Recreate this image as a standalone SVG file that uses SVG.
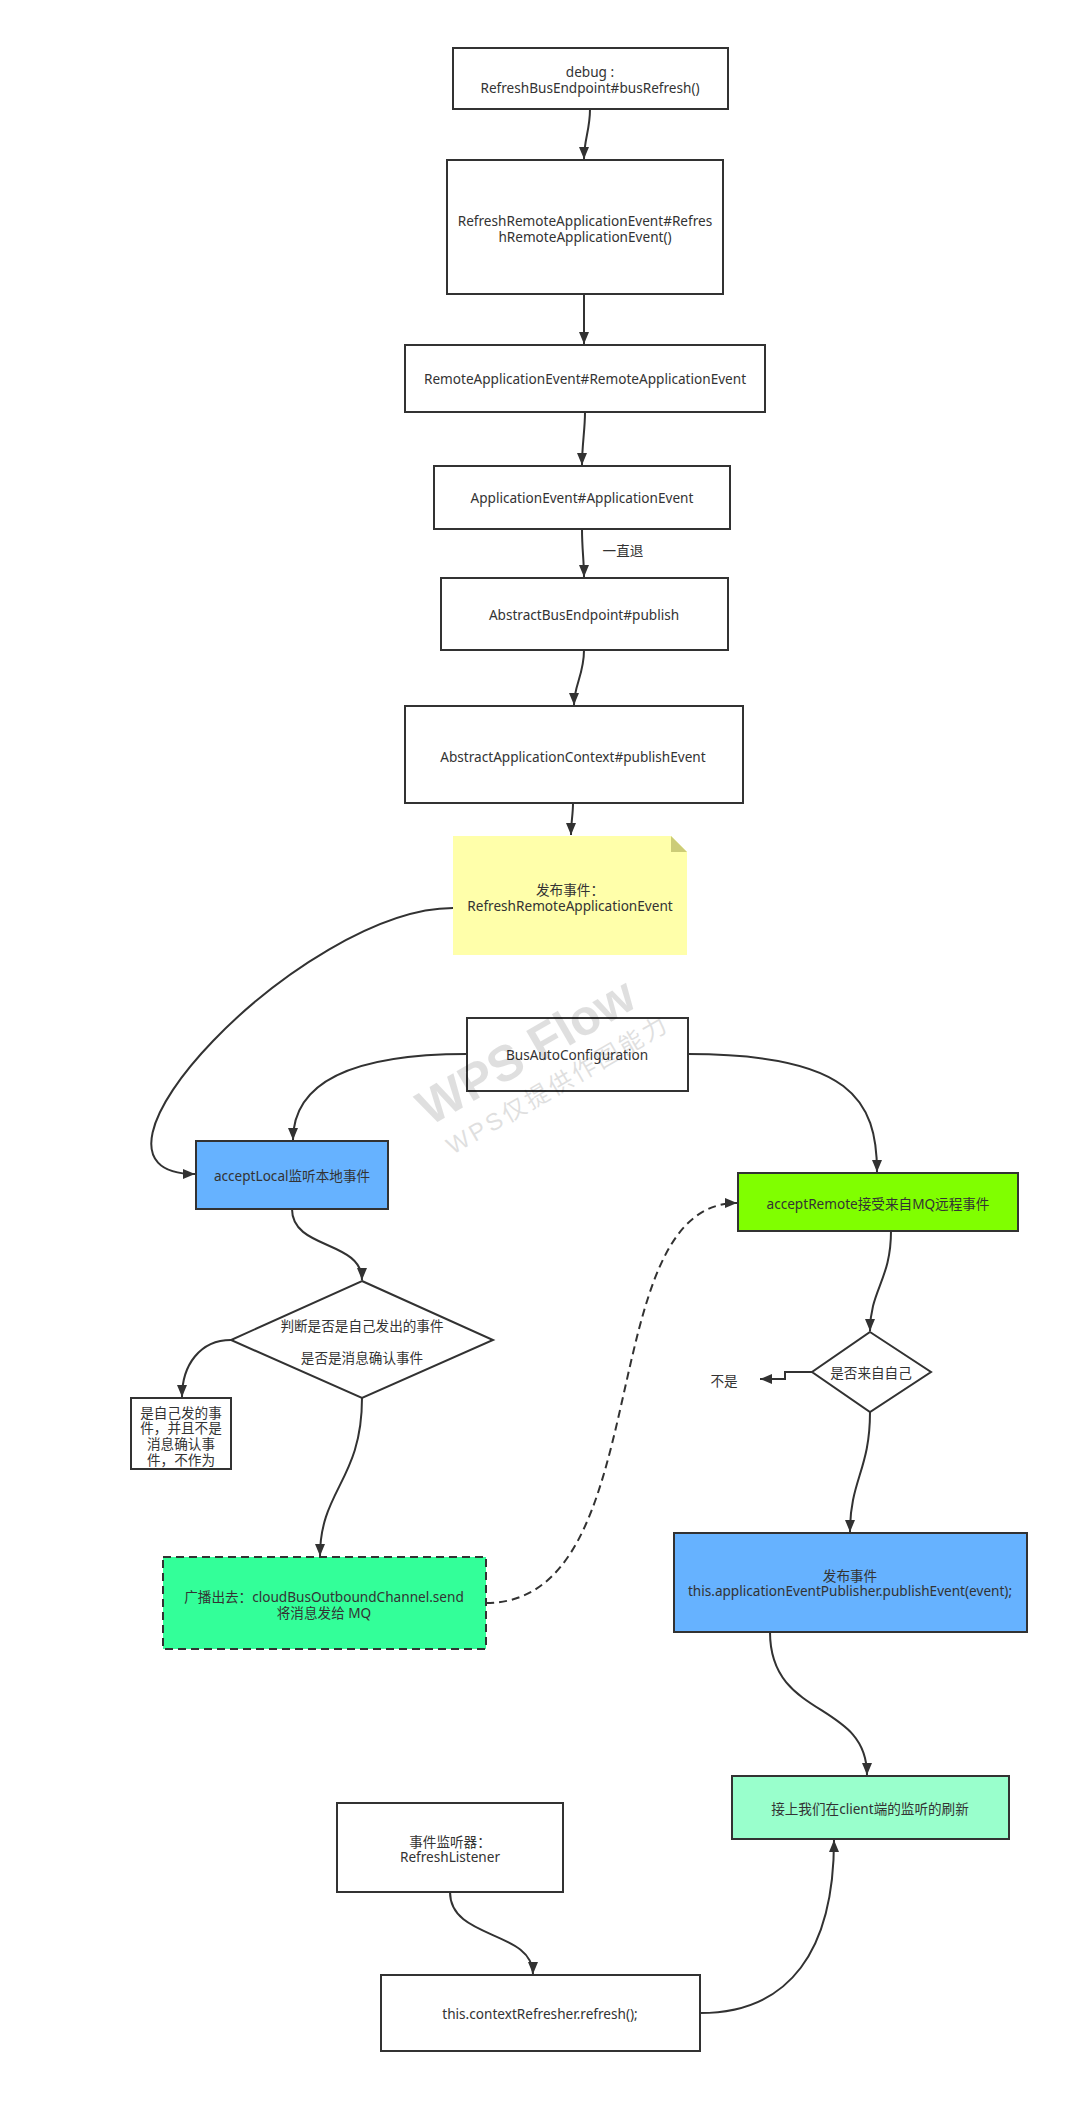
<svg xmlns="http://www.w3.org/2000/svg" width="1088" height="2113" viewBox="0 0 1088 2113">
<defs>
<marker id="arr" markerUnits="userSpaceOnUse" markerWidth="13" markerHeight="11" refX="12" refY="5" orient="auto">
<path d="M0,0 L12,5 L0,10 z" fill="#323232"/>
</marker>
<style>
.box{stroke:#323232;stroke-width:2;fill:#ffffff}
.t{font-family:"Noto Sans","Noto Sans CJK SC",sans-serif;font-size:13.6px;fill:#333333;text-anchor:middle;dominant-baseline:central}
.c{fill:none;stroke:#323232;stroke-width:2}
.wm{font-family:"Liberation Sans","Noto Sans CJK SC",sans-serif;fill:#000;opacity:0.12;text-anchor:middle}
</style>
</defs>
<rect width="1088" height="2113" fill="#ffffff"/>

<g id="n1"><rect class="box" x="453" y="48" width="275" height="61"/><text class="t" x="590" y="71">debug :</text><text class="t" x="590" y="87">RefreshBusEndpoint#busRefresh()</text></g>
<g id="n2"><rect class="box" x="447" y="160" width="276" height="134"/><text class="t" x="585" y="220">RefreshRemoteApplicationEvent#Refres</text><text class="t" x="585" y="236">hRemoteApplicationEvent()</text></g>
<g id="n3"><rect class="box" x="405" y="345" width="360" height="67"/><text class="t" x="585" y="378">RemoteApplicationEvent#RemoteApplicationEvent</text></g>
<g id="n4"><rect class="box" x="434" y="466" width="296" height="63"/><text class="t" x="582" y="497">ApplicationEvent#ApplicationEvent</text></g>
<g id="n5"><rect class="box" x="441" y="578" width="287" height="72"/><text class="t" x="584" y="614">AbstractBusEndpoint#publish</text></g>
<g id="n6"><rect class="box" x="405" y="706" width="338" height="97"/><text class="t" x="573" y="756">AbstractApplicationContext#publishEvent</text></g>
<g id="n7"><polygon points="453,836 671,836 687,852 687,955 453,955" fill="#ffffaa"/><polygon points="671,836 687,852 671,852" fill="#cccc77"/><text class="t" x="570" y="889">发布事件：</text><text class="t" x="570" y="905">RefreshRemoteApplicationEvent</text></g>
<g id="n8"><rect class="box" x="467" y="1018" width="221" height="73"/><text class="t" x="577" y="1054">BusAutoConfiguration</text></g>
<g id="n9"><rect class="box" x="196" y="1141" width="192" height="68" style="fill:#66b2ff"/><text class="t" x="292" y="1175">acceptLocal监听本地事件</text></g>
<g id="n10"><polygon class="box" points="362,1281 493,1340 362,1398 231,1340"/><text class="t" x="362" y="1325">判断是否是自己发出的事件</text><text class="t" x="362" y="1357">是否是消息确认事件</text></g>
<g id="n11"><rect class="box" x="131" y="1398" width="100" height="71"/><text class="t" x="181" y="1412">是自己发的事</text><text class="t" x="181" y="1427">件，并且不是</text><text class="t" x="181" y="1443">消息确认事</text><text class="t" x="181" y="1459">件，不作为</text></g>
<g id="n12"><rect class="box" x="163" y="1557" width="323" height="92" style="fill:#33ff99;stroke-dasharray:8 5"/><text class="t" x="324" y="1596">广播出去：cloudBusOutboundChannel.send</text><text class="t" x="324" y="1612">将消息发给 MQ</text></g>
<g id="n13"><rect class="box" x="738" y="1173" width="280" height="58" style="fill:#80ff00"/><text class="t" x="878" y="1203">acceptRemote接受来自MQ远程事件</text></g>
<g id="n14"><polygon class="box" points="870,1332 931,1372 870,1412 812,1372"/><text class="t" x="871" y="1372">是否来自自己</text></g>
<g id="n15"><text class="t" x="724" y="1380">不是</text></g>
<g id="n16"><rect class="box" x="674" y="1533" width="353" height="99" style="fill:#66b2ff"/><text class="t" x="850" y="1575">发布事件</text><text class="t" x="850" y="1590">this.applicationEventPublisher.publishEvent(event);</text></g>
<g id="n17"><rect class="box" x="732" y="1776" width="277" height="63" style="fill:#99ffcc"/><text class="t" x="870" y="1808">接上我们在client端的监听的刷新</text></g>
<g id="n18"><rect class="box" x="337" y="1803" width="226" height="89"/><text class="t" x="450" y="1841">事件监听器：</text><text class="t" x="450" y="1856">RefreshListener</text></g>
<g id="n19"><rect class="box" x="381" y="1975" width="319" height="76"/><text class="t" x="540" y="2013">this.contextRefresher.refresh();</text></g>

<g id="connectors">
<path class="c" marker-end="url(#arr)" d="M590,109 C590,130 584,140 584,159"/>
<path class="c" marker-end="url(#arr)" d="M584,294 L584,344"/>
<path class="c" marker-end="url(#arr)" d="M585,412 C585,430 582,445 582,465"/>
<path class="c" marker-end="url(#arr)" d="M582,529 C582,550 584,560 584,577"/>
<text class="t" x="623" y="550">一直退</text>
<path class="c" marker-end="url(#arr)" d="M584,650 C584,675 574,685 574,705"/>
<path class="c" marker-end="url(#arr)" d="M573,803 C573,815 571,822 571,835"/>
<path class="c" marker-end="url(#arr)" d="M453,908 C303,908 49,1174 195,1174"/>
<path class="c" marker-end="url(#arr)" d="M467,1054 C320,1054 293,1100 293,1140"/>
<path class="c" marker-end="url(#arr)" d="M688,1054 C850,1054 877,1100 877,1172"/>
<path class="c" marker-end="url(#arr)" d="M292,1209 C292,1250 362,1240 362,1280"/>
<path class="c" marker-end="url(#arr)" d="M231,1340 C200,1340 182,1365 182,1397"/>
<path class="c" marker-end="url(#arr)" d="M362,1398 C362,1480 320,1490 320,1556"/>
<path class="c" marker-end="url(#arr)" style="stroke-dasharray:8 5" d="M486,1603 C660,1603 590,1203 737,1203"/>
<path class="c" marker-end="url(#arr)" d="M891,1231 C891,1280 870,1290 870,1331"/>
<path class="c" marker-end="url(#arr)" d="M812,1372 L785,1372 L785,1379 L760,1379"/>
<path class="c" marker-end="url(#arr)" d="M870,1412 C870,1470 850,1480 850,1532"/>
<path class="c" marker-end="url(#arr)" d="M770,1632 C770,1720 867,1700 867,1775"/>
<path class="c" marker-end="url(#arr)" d="M450,1892 C450,1940 533,1930 533,1974"/>
<path class="c" marker-end="url(#arr)" d="M700,2013 C790,2013 834,1950 834,1840"/>
</g>

<g id="watermark">
<text class="wm" x="527" y="1068" font-size="50" font-weight="bold" transform="rotate(-30 527 1053)">WPS Flow</text>
<text class="wm" x="558" y="1093" font-size="24" letter-spacing="3" transform="rotate(-30 558 1085)">WPS仅提供作图能力</text>
</g>
</svg>
